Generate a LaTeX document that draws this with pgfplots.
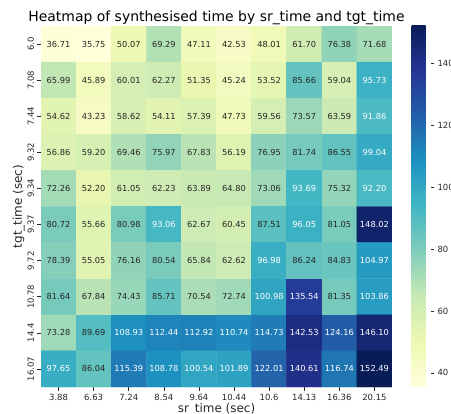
\documentclass[border=0pt]{standalone}
\usepackage{pgfplots}
\pgfplotsset{compat=1.18}
\usepackage{fontspec}
\setmainfont{DejaVu Sans}
\definecolor{txtdark}{HTML}{262626}
\begin{document}
\begin{tikzpicture}
\useasboundingbox (0,0) rectangle (451bp,414bp);
\begin{axis}[
  at={(41bp,27bp)}, anchor=south west,
  scale only axis, width=351bp, height=361bp,
  xmin=-0.5, xmax=9.5, ymin=-0.5, ymax=9.5,
  y dir=reverse,
  axis line style={draw=none},
  xtick={0,...,9}, ytick={0,...,9},
  xticklabels={3.88,6.63,7.24,8.54,9.64,10.44,10.6,14.13,16.36,20.15},
  yticklabels={6.0,7.08,7.44,9.32,9.34,9.37,9.72,10.78,14.4,16.07},
  xtick pos=bottom, ytick pos=left,
  tick align=outside, major tick length=3.5bp,
  tick style={color=txtdark, line width=0.6pt},
  ticklabel style={font=\fontsize{8.5}{10}\selectfont, text=txtdark},
  yticklabel style={rotate=90, anchor=south},
  /pgf/number format/assume math mode=true,
  xlabel={sr\_time (sec)}, ylabel={tgt\_time (sec)},
  label style={font=\fontsize{12}{14}\selectfont, text=txtdark},
  xlabel style={yshift=4bp},
  ylabel style={yshift=-4bp},
  title={Heatmap of synthesised time by sr\_time and tgt\_time},
  title style={font=\fontsize{14}{16}\selectfont, yshift=-8.5bp},
  colormap={ylgnbu}{rgb255=(255,255,217) rgb255=(237,248,177) rgb255=(199,233,180) rgb255=(127,205,187) rgb255=(65,182,196) rgb255=(29,145,192) rgb255=(34,94,168) rgb255=(37,52,148) rgb255=(8,29,88)},
  point meta min=35.75, point meta max=152.49,
  colorbar,
  colorbar style={
    at={(parent axis.north east)}, anchor=north west, xshift=11bp, yshift=1bp,
    width=19bp, height=361bp,
    axis line style={draw=none},
    ytick={40,60,80,100,120,140},
    ytick pos=right, tick align=outside, major tick length=3.5bp,
    tick style={color=txtdark, line width=0.6pt},
    yticklabel style={font=\fontsize{8.5}{10}\selectfont, text=txtdark},
    /pgf/number format/assume math mode=true,
  },
]
\addplot [matrix plot*, mesh/cols=10, point meta=explicit] table [x=x, y=y, meta=v] {
x y v
0 0 36.71
1 0 35.75
2 0 50.07
3 0 69.29
4 0 47.11
5 0 42.53
6 0 48.01
7 0 61.70
8 0 76.38
9 0 71.68
0 1 65.99
1 1 45.89
2 1 60.01
3 1 62.27
4 1 51.35
5 1 45.24
6 1 53.52
7 1 85.66
8 1 59.04
9 1 95.73
0 2 54.62
1 2 43.23
2 2 58.62
3 2 54.11
4 2 57.39
5 2 47.73
6 2 59.56
7 2 73.57
8 2 63.59
9 2 91.86
0 3 56.86
1 3 59.20
2 3 69.46
3 3 75.97
4 3 67.83
5 3 56.19
6 3 76.95
7 3 81.74
8 3 86.55
9 3 99.04
0 4 72.26
1 4 52.20
2 4 61.05
3 4 62.23
4 4 63.89
5 4 64.80
6 4 73.06
7 4 93.69
8 4 75.32
9 4 92.20
0 5 80.72
1 5 55.66
2 5 80.98
3 5 93.06
4 5 62.67
5 5 60.45
6 5 87.51
7 5 96.05
8 5 81.05
9 5 148.02
0 6 78.39
1 6 55.05
2 6 76.16
3 6 80.54
4 6 65.84
5 6 62.62
6 6 96.98
7 6 86.24
8 6 84.83
9 6 104.97
0 7 81.64
1 7 67.84
2 7 74.43
3 7 85.71
4 7 70.54
5 7 72.74
6 7 100.98
7 7 135.54
8 7 81.35
9 7 103.86
0 8 73.28
1 8 89.69
2 8 108.93
3 8 112.44
4 8 112.92
5 8 110.74
6 8 114.73
7 8 142.53
8 8 124.16
9 8 146.10
0 9 97.65
1 9 86.04
2 9 115.39
3 9 108.78
4 9 100.54
5 9 101.89
6 9 122.01
7 9 140.61
8 9 116.74
9 9 152.49
};
\addplot [draw=none, mark=none, point meta=explicit,
  visualization depends on={value \thisrow{v} \as \val},
  nodes near coords={\ifdim\val pt>90.5pt\color{white}\else\color{txtdark}\fi\val},
  every node near coord/.append style={anchor=center, font=\fontsize{8.3}{10}\selectfont, inner sep=0pt, yshift=0pt},
] table [x=x, y=y, meta=v] {
x y v
0 0 36.71
1 0 35.75
2 0 50.07
3 0 69.29
4 0 47.11
5 0 42.53
6 0 48.01
7 0 61.70
8 0 76.38
9 0 71.68
0 1 65.99
1 1 45.89
2 1 60.01
3 1 62.27
4 1 51.35
5 1 45.24
6 1 53.52
7 1 85.66
8 1 59.04
9 1 95.73
0 2 54.62
1 2 43.23
2 2 58.62
3 2 54.11
4 2 57.39
5 2 47.73
6 2 59.56
7 2 73.57
8 2 63.59
9 2 91.86
0 3 56.86
1 3 59.20
2 3 69.46
3 3 75.97
4 3 67.83
5 3 56.19
6 3 76.95
7 3 81.74
8 3 86.55
9 3 99.04
0 4 72.26
1 4 52.20
2 4 61.05
3 4 62.23
4 4 63.89
5 4 64.80
6 4 73.06
7 4 93.69
8 4 75.32
9 4 92.20
0 5 80.72
1 5 55.66
2 5 80.98
3 5 93.06
4 5 62.67
5 5 60.45
6 5 87.51
7 5 96.05
8 5 81.05
9 5 148.02
0 6 78.39
1 6 55.05
2 6 76.16
3 6 80.54
4 6 65.84
5 6 62.62
6 6 96.98
7 6 86.24
8 6 84.83
9 6 104.97
0 7 81.64
1 7 67.84
2 7 74.43
3 7 85.71
4 7 70.54
5 7 72.74
6 7 100.98
7 7 135.54
8 7 81.35
9 7 103.86
0 8 73.28
1 8 89.69
2 8 108.93
3 8 112.44
4 8 112.92
5 8 110.74
6 8 114.73
7 8 142.53
8 8 124.16
9 8 146.10
0 9 97.65
1 9 86.04
2 9 115.39
3 9 108.78
4 9 100.54
5 9 101.89
6 9 122.01
7 9 140.61
8 9 116.74
9 9 152.49
};
\end{axis}
\end{tikzpicture}
\end{document}
